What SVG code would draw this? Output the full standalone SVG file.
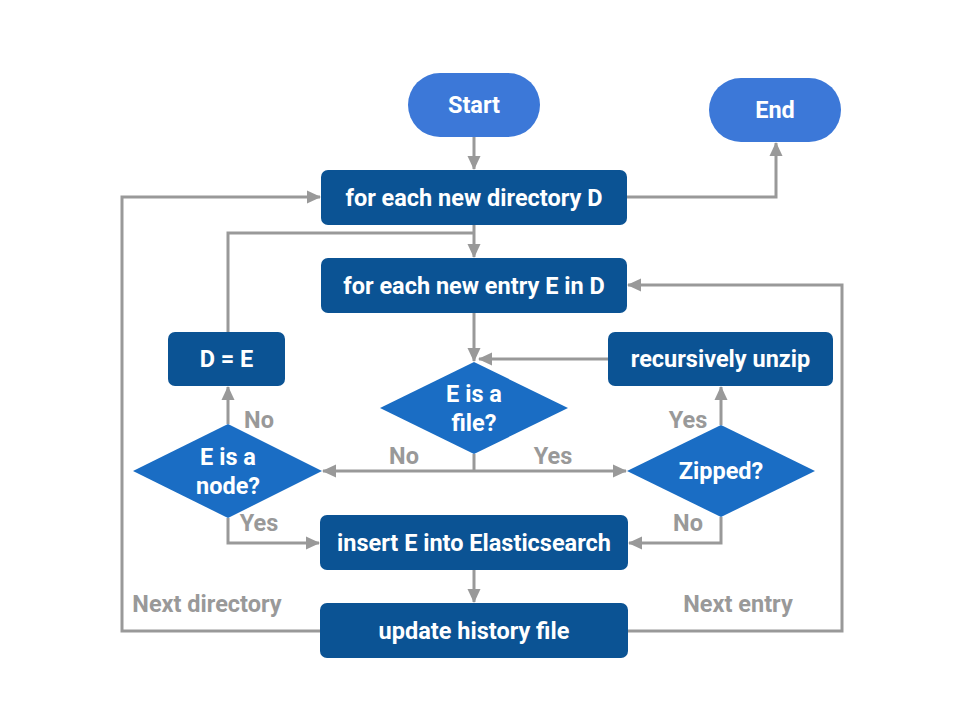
<svg xmlns="http://www.w3.org/2000/svg" width="960" height="720" viewBox="0 0 960 720">
<defs>
<marker id="ah" markerWidth="14" markerHeight="14" refX="13" refY="7" orient="auto" markerUnits="userSpaceOnUse" viewBox="0 0 14 14">
<path d="M0,0.5 L14,7 L0,13.5 z" fill="#999999"/>
</marker>
<style>
.term{fill:#3c78d8}
.box{fill:#0b5394}
.dia{fill:#1a6dc4}
.t{font-family:Roboto,"Liberation Sans",sans-serif;font-weight:bold;font-size:23.5px;fill:#ffffff;text-anchor:middle;dominant-baseline:central}
.lbl{font-family:Roboto,"Liberation Sans",sans-serif;font-weight:bold;font-size:23.5px;fill:#999999;text-anchor:middle;dominant-baseline:central}
.c{fill:none;stroke:#999999;stroke-width:3}
.ca{fill:none;stroke:#999999;stroke-width:3;marker-end:url(#ah)}
</style>
</defs>
<rect width="960" height="720" fill="#ffffff"/>
<g id="connectors">
<path class="ca" d="M474,137 V169"/>
<path class="ca" d="M627,197 H776 V143"/>
<path class="ca" d="M474,225 V257"/>
<path class="c" d="M228,332 V233 H474"/>
<path class="ca" d="M474,313 V361"/>
<path class="ca" d="M608,359 H479"/>
<path class="c" d="M474,454 V471"/>
<path class="ca" d="M474,471 H323"/>
<path class="ca" d="M474,471 H626"/>
<path class="ca" d="M228,424 V387"/>
<path class="ca" d="M228,518 V543 H319"/>
<path class="ca" d="M721,425 V387"/>
<path class="ca" d="M721,517 V543 H629"/>
<path class="ca" d="M474,570 V602"/>
<path class="ca" d="M320,631 H122 V197 H320"/>
<path class="ca" d="M628,631 H842 V285 H628"/>
<text class="lbl" x="404" y="456">No</text>
<text class="lbl" x="553" y="456">Yes</text>
<text class="lbl" x="259" y="420">No</text>
<text class="lbl" x="259" y="523">Yes</text>
<text class="lbl" x="688" y="420">Yes</text>
<text class="lbl" x="688" y="523">No</text>
<text class="lbl" x="207" y="604">Next directory</text>
<text class="lbl" x="738" y="604">Next entry</text>
</g>
<g id="start">
<rect class="term" x="408" y="73" width="132" height="64" rx="32"/>
<text class="t" x="474" y="105">Start</text>
</g>
<g id="end">
<rect class="term" x="709" y="78" width="132" height="64" rx="32"/>
<text class="t" x="775" y="110">End</text>
</g>
<g id="forDir">
<rect class="box" x="321" y="170" width="306" height="55" rx="7"/>
<text class="t" x="474" y="197.5">for each new directory D</text>
</g>
<g id="forEntry">
<rect class="box" x="321" y="258" width="306" height="55" rx="7"/>
<text class="t" x="474" y="285.5">for each new entry E in D</text>
</g>
<g id="dEqE">
<rect class="box" x="168" y="332" width="117" height="54" rx="7"/>
<text class="t" x="226.5" y="359">D = E</text>
</g>
<g id="unzip">
<rect class="box" x="608" y="332" width="225" height="54" rx="7"/>
<text class="t" x="720.5" y="359">recursively unzip</text>
</g>
<g id="isFile">
<polygon class="dia" points="474,362 568,408 474,454 380,408"/>
<text class="t" x="474" y="394">E is a</text>
<text class="t" x="474" y="423">file?</text>
</g>
<g id="isNode">
<polygon class="dia" points="228,424 322,471 228,518 133,471"/>
<text class="t" x="228" y="457">E is a</text>
<text class="t" x="228" y="486">node?</text>
</g>
<g id="zipped">
<polygon class="dia" points="721,425 815,471 721,517 627,471"/>
<text class="t" x="721" y="471">Zipped?</text>
</g>
<g id="insert">
<rect class="box" x="320" y="515" width="308" height="55" rx="7"/>
<text class="t" x="474" y="542.5">insert E into Elasticsearch</text>
</g>
<g id="update">
<rect class="box" x="320" y="603" width="308" height="55" rx="7"/>
<text class="t" x="474" y="630.5">update history file</text>
</g>
</svg>
